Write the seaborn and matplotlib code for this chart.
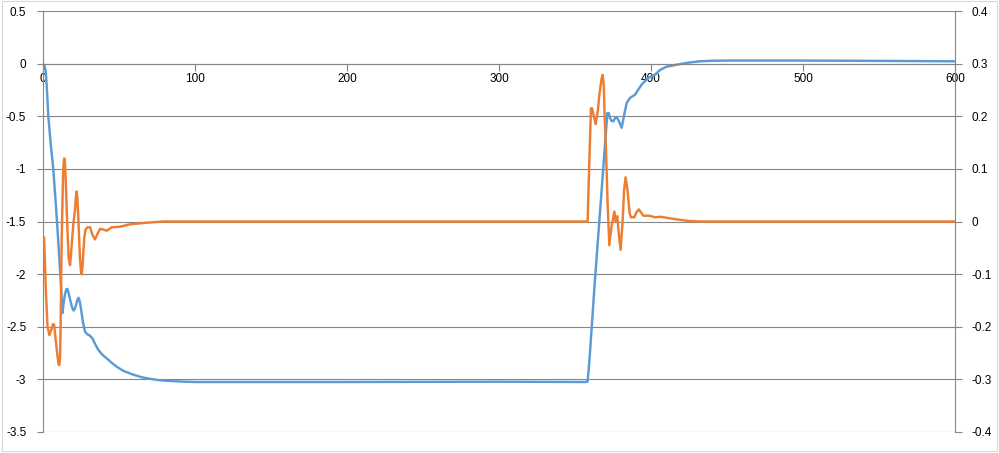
import numpy as np
import pandas as pd
import matplotlib
matplotlib.use("Agg")
import matplotlib.pyplot as plt
from matplotlib.ticker import FormatStrFormatter
import seaborn as sns

# blue series (left axis)
blue_x = [0, 0.9, 1.8, 2.6, 3.5, 5.0, 6.8, 8.5, 10.1, 11.5, 12.8, 13.6, 14.5, 15.3,
          16.1, 17.0, 18.0, 19.0, 20.0, 20.9, 21.8, 22.6, 23.4, 24.2, 25.0, 26.3,
          27.6, 29.0, 30.5, 32.5, 34.5, 36.4, 39.0, 41.9, 45.0, 48.5, 53.0, 59.4,
          65.0, 70.4, 76.0, 81.4, 90, 100, 200, 300, 357.5, 358.3, 359.5, 363.2,
          371.3, 372.2, 373, 374.1, 375.2, 376.3, 377.4, 379.0, 380.7, 382.3, 384,
          386.2, 389.5, 391.5, 393.8, 396, 398.2, 402.6, 406, 410, 417, 425, 432,
          440, 450, 500, 550, 600]
blue_y = [0, -0.02, -0.07, -0.25, -0.50, -0.75, -1.01, -1.35, -1.70, -2.03, -2.37,
          -2.27, -2.19, -2.145, -2.14, -2.19, -2.25, -2.31, -2.345, -2.33, -2.29,
          -2.245, -2.225, -2.26, -2.33, -2.46, -2.545, -2.57, -2.58, -2.61, -2.67,
          -2.72, -2.765, -2.80, -2.84, -2.88, -2.92, -2.955, -2.98, -2.995, -3.007,
          -3.013, -3.02, -3.025, -3.025, -3.022, -3.025, -3.02, -2.82, -2.04,
          -0.47, -0.47, -0.516, -0.545, -0.548, -0.52, -0.507, -0.55, -0.61, -0.49,
          -0.374, -0.326, -0.295, -0.25, -0.20, -0.165, -0.136, -0.105, -0.06,
          -0.03, -0.01, 0.01, 0.022, 0.027, 0.029, 0.029, 0.026, 0.022]

# orange series (right axis)
orange_x = [0.7, 1.3, 2.0, 3.0, 4.2, 5.5, 6.6, 7.3, 8.0, 9.5, 10.2, 10.7, 11.2,
            11.5, 12.3, 13.2, 13.6, 14.0, 14.4, 14.8, 15.4, 16.0, 16.9, 17.8, 18.5,
            19.0, 20.0, 21.0, 21.6, 22.1, 22.6, 23.2, 24.3, 25.0, 25.4, 25.9, 26.5,
            27.2, 28.0, 29.2, 31.0, 32.5, 34.2, 35.8, 37.5, 39.5, 41.9, 45.2, 50.7,
            57.2, 68.2, 79, 358.3, 359.5, 360.5, 361.2, 362, 363.6, 365, 366,
            367.4, 368.2, 368.9, 369.5, 370.4, 371.5, 372.6, 374, 375.9, 376.8,
            377.8, 378.7, 380.0, 381.3, 382.3, 383.3, 384.5, 386, 386.8, 389, 390.5,
            392, 393.5, 395, 398.9, 402.6, 406, 417, 425, 432, 600]
orange_y = [-0.03, -0.08, -0.14, -0.20, -0.216, -0.205, -0.195, -0.196,
            -0.215, -0.255, -0.27, -0.273, -0.26, -0.22, -0.035, 0.09, 0.113, 0.12,
            0.113, 0.09, 0.04, -0.01, -0.07, -0.083, -0.06, -0.04, -0.003, 0.02,
            0.045, 0.057, 0.045, 0.01, -0.07, -0.095, -0.10, -0.09, -0.06, -0.03,
            -0.015, -0.011, -0.011, -0.025, -0.034, -0.024, -0.014, -0.015,
            -0.0175, -0.011, -0.0099, -0.0053, -0.0023, 0, 0, 0.12, 0.215, 0.215,
            0.205, 0.185, 0.21, 0.24, 0.27, 0.2785, 0.26, 0.20, 0.136, 0.03,
            -0.045, -0.01, 0.019, 0.0, 0.01, -0.02, -0.054, 0.0, 0.06, 0.084, 0.06,
            0.015, 0.008, 0.008, 0.018, 0.023, 0.017, 0.011, 0.011, 0.008, 0.009,
            0.004, 0.001, 0, 0]

left_ticks = [0.5, 0, -0.5, -1, -1.5, -2, -2.5, -3, -3.5]
right_ticks = [0.4, 0.3, 0.2, 0.1, 0, -0.1, -0.2, -0.3, -0.4]
x_ticks = [0, 100, 200, 300, 400, 500, 600]

sns.set_theme(style="white")
plt.rcParams['font.family'] = ['Liberation Sans', 'DejaVu Sans']
plt.rcParams['axes.unicode_minus'] = False

grid_col = "#868686"

fig = plt.figure(figsize=(9.99, 4.53), dpi=100)
ax = fig.add_axes([43 / 999, 1 - 432 / 453, (955 - 43) / 999, (432 - 11) / 453])

blue_df = pd.DataFrame({"x": blue_x, "y": blue_y})
orange_df = pd.DataFrame({"x": orange_x, "y": orange_y})

sns.lineplot(data=blue_df, x="x", y="y", ax=ax, sort=False, estimator=None,
             color="#5B9BD5", linewidth=1.75)
ax.set_xlim(0, 600)
ax.set_ylim(-3.5, 0.5)
ax.set_yticks(left_ticks)
ax.set_xticks(x_ticks)
ax.yaxis.set_major_formatter(FormatStrFormatter('%g'))
ax.grid(axis="y", color=grid_col, linewidth=0.8)
ax.set_axisbelow(True)
ax.set_xlabel("")
ax.set_ylabel("")

for s in ["top", "right"]:
    ax.spines[s].set_visible(False)
ax.spines["bottom"].set_position(("data", 0))
ax.spines["bottom"].set_color(grid_col)
ax.spines["left"].set_color(grid_col)
ax.spines["bottom"].set_linewidth(0.8)
ax.spines["left"].set_linewidth(0.8)
ax.tick_params(axis="x", direction="out", length=5, width=0.8, color=grid_col,
               labelsize=8.5, labelcolor="black", pad=2, bottom=True)
ax.tick_params(axis="y", direction="out", length=4, width=0.8, color=grid_col,
               labelsize=8.5, labelcolor="black", pad=8, left=True)

ax2 = ax.twinx()
sns.lineplot(data=orange_df, x="x", y="y", ax=ax2, sort=False, estimator=None,
             color="#ED7D31", linewidth=1.75)
ax2.set_ylim(-0.4, 0.4)
ax2.set_yticks(right_ticks)
ax2.yaxis.set_major_formatter(FormatStrFormatter('%g'))
ax2.set_ylabel("")
for s in ["top", "left", "bottom"]:
    ax2.spines[s].set_visible(False)
ax2.spines["right"].set_color(grid_col)
ax2.spines["right"].set_linewidth(0.8)
ax2.tick_params(axis="y", direction="out", length=5, width=0.8, color=grid_col,
                labelsize=8.5, labelcolor="black", pad=7, right=True)
ax2.grid(False)

# chart border
fig.patches.append(plt.Rectangle((0.002, 0.004), 0.996, 0.993, transform=fig.transFigure,
                                 fill=False, edgecolor="#D9D9D9", linewidth=0.8))

fig.savefig("out.png", dpi=100)
